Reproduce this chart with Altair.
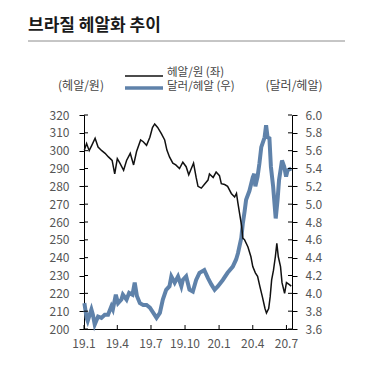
import altair as alt
import pandas as pd

title_text = "브라질 헤알화 추이"
left_series_name = "헤알/원 (좌)"
right_series_name = "달러/헤알 (우)"
left_unit = "(헤알/원)"
right_unit = "(달러/헤알)"

brl_krw_dates = [
    "2019-01-02", "2019-01-08", "2019-01-15", "2019-01-22", "2019-01-31", "2019-02-08",
    "2019-02-18", "2019-02-27", "2019-03-08", "2019-03-18", "2019-03-25", "2019-04-01",
    "2019-04-08", "2019-04-18", "2019-04-26", "2019-05-06", "2019-05-15", "2019-05-23",
    "2019-06-03", "2019-06-10", "2019-06-19", "2019-06-28", "2019-07-05", "2019-07-11",
    "2019-07-19", "2019-07-29", "2019-08-07", "2019-08-13", "2019-08-20", "2019-08-29",
    "2019-09-06", "2019-09-16", "2019-09-25", "2019-10-04", "2019-10-11", "2019-10-18",
    "2019-10-24", "2019-10-31", "2019-11-05", "2019-11-14", "2019-11-22", "2019-12-02",
    "2019-12-06", "2019-12-16", "2019-12-24", "2020-01-02", "2020-01-07", "2020-01-16",
    "2020-01-24", "2020-02-03", "2020-02-12", "2020-02-17", "2020-02-21", "2020-03-02",
    "2020-03-05", "2020-03-10", "2020-03-19", "2020-03-27", "2020-04-01", "2020-04-08",
    "2020-04-14", "2020-04-20", "2020-04-27", "2020-05-04", "2020-05-08", "2020-05-14",
    "2020-05-18", "2020-05-22", "2020-05-27", "2020-06-01", "2020-06-05", "2020-06-09",
    "2020-06-15", "2020-06-19", "2020-06-26", "2020-07-01", "2020-07-08", "2020-07-14",
]
brl_krw_values = [
    300.3, 304.0, 300.0, 303.0, 307.0, 302.0,
    300.0, 298.5, 296.5, 294.5, 287.0, 295.5,
    293.0, 289.0, 294.5, 298.5, 292.0, 299.5,
    306.0, 305.0, 303.0, 307.5, 313.0, 315.0,
    313.0, 309.5, 306.0, 300.3, 296.5, 293.0,
    292.0, 290.0, 293.5, 291.0, 286.5, 290.0,
    293.0, 285.0, 280.0, 279.0, 281.0, 283.5,
    287.0, 285.0, 288.0, 286.0, 281.5, 281.0,
    280.0, 276.0, 274.0, 276.0, 270.5, 257.5,
    251.0, 250.0, 246.0, 240.5, 235.0, 231.5,
    229.5, 224.0, 218.0, 211.5, 209.0, 211.5,
    218.0, 227.5, 233.0, 240.5, 248.0, 240.5,
    235.0, 226.0, 220.0, 226.0, 225.0, 224.0,
]

usd_brl_dates = [
    "2019-01-02", "2019-01-08", "2019-01-11", "2019-01-21", "2019-01-25", "2019-01-30",
    "2019-02-08", "2019-02-17", "2019-02-26", "2019-03-07", "2019-03-16", "2019-03-20",
    "2019-03-28", "2019-04-03", "2019-04-12", "2019-04-16", "2019-04-26", "2019-05-03",
    "2019-05-12", "2019-05-18", "2019-05-24", "2019-06-01", "2019-06-10", "2019-06-19",
    "2019-06-28", "2019-07-06", "2019-07-16", "2019-07-25", "2019-08-02", "2019-08-11",
    "2019-08-20", "2019-08-25", "2019-09-03", "2019-09-12", "2019-09-21", "2019-09-25",
    "2019-10-04", "2019-10-13", "2019-10-22", "2019-10-31", "2019-11-09", "2019-11-22",
    "2019-12-02", "2019-12-11", "2019-12-20", "2019-12-29", "2020-01-11", "2020-01-24",
    "2020-02-07", "2020-02-16", "2020-02-21", "2020-03-01", "2020-03-05", "2020-03-10",
    "2020-03-14", "2020-03-23", "2020-04-01", "2020-04-05", "2020-04-08", "2020-04-14",
    "2020-04-19", "2020-04-24", "2020-05-03", "2020-05-07", "2020-05-11", "2020-05-16",
    "2020-05-20", "2020-05-26", "2020-06-02", "2020-06-07", "2020-06-11", "2020-06-19",
    "2020-06-25", "2020-06-30", "2020-07-04", "2020-07-14",
]
usd_brl_values = [
    3.89, 3.725, 3.69, 3.82, 3.76, 3.65,
    3.74, 3.725, 3.76, 3.76, 3.855, 3.82,
    3.985, 3.89, 3.93, 3.985, 3.93, 4.005,
    3.985, 4.12, 3.97, 3.89, 3.87, 3.87,
    3.84, 3.79, 3.725, 3.78, 3.93, 4.04,
    4.08, 4.19, 4.12, 4.19, 4.08, 4.15,
    4.19, 4.04, 4.02, 4.15, 4.23, 4.26,
    4.17, 4.10, 4.04, 4.08, 4.15, 4.23,
    4.30, 4.38, 4.45, 4.62, 4.78, 4.92,
    5.05, 5.15, 5.30, 5.34, 5.20, 5.31,
    5.46, 5.64, 5.75, 5.885, 5.75, 5.74,
    5.42, 5.20, 4.84, 5.05, 5.27, 5.49,
    5.42, 5.31, 5.38, 5.40,
]

x_tick_dates = ["2019-01-01", "2019-04-01", "2019-07-01", "2019-10-01",
                "2020-01-01", "2020-04-01", "2020-07-01"]
x_tick_labels = ["19.1", "19.4", "19.7", "19.10", "20.1", "20.4", "20.7"]
left_ticks = [200, 210, 220, 230, 240, 250, 260, 270, 280, 290, 300, 310, 320]
right_ticks = [3.6, 3.8, 4.0, 4.2, 4.4, 4.6, 4.8, 5.0, 5.2, 5.4, 5.6, 5.8, 6.0]

W = 208
H = 214
FONT = "Noto Sans CJK KR"
LABEL_COLOR = "#555555"

krw_df = pd.DataFrame({"date": brl_krw_dates, "v": brl_krw_values})
usd_df = pd.DataFrame({"date": usd_brl_dates, "v": usd_brl_values})
xt_df = pd.DataFrame({"date": x_tick_dates, "lab": x_tick_labels})
lt_df = pd.DataFrame({"t": left_ticks})
rt_df = pd.DataFrame({"t": right_ticks})
one = pd.DataFrame({"a": [0]})

x_dom = [alt.DateTime(year=2019, month=1, date=1, utc=True),
         alt.DateTime(year=2020, month=7, date=16, utc=True)]

xscale = alt.Scale(type="utc", domain=x_dom)
# axis with domain line only; labels drawn from tick table
x_axis = alt.Axis(title=None, ticks=False, labels=False, grid=False, domainColor="black")

blue = alt.Chart(usd_df).mark_line(color="#5f82aa", strokeWidth=4).encode(
    x=alt.X("date:T", scale=xscale, axis=x_axis),
    y=alt.Y("v:Q", scale=alt.Scale(domain=[3.6, 6.0], zero=False, nice=False),
            axis=alt.Axis(orient="right", values=right_ticks, format=".1f", title=None,
                          tickSize=5, labelPadding=8, domainColor="black", tickColor="black",
                          grid=False, labelOverlap=False,
                          labelFont=FONT, labelFontSize=12, labelColor=LABEL_COLOR)),
)

black = alt.Chart(krw_df).mark_line(color="#111111", strokeWidth=1.5).encode(
    x=alt.X("date:T", scale=xscale, axis=x_axis),
    y=alt.Y("v:Q", scale=alt.Scale(domain=[200, 320], zero=False, nice=False),
            axis=alt.Axis(orient="left", values=left_ticks, format="d", title=None,
                          tickSize=5, labelPadding=10, domainColor="black", tickColor="black",
                          grid=False, labelOverlap=False,
                          labelFont=FONT, labelFontSize=12, labelColor=LABEL_COLOR)),
)

xticks = alt.Chart(xt_df).mark_rule(color="black", strokeWidth=1).encode(
    x=alt.X("date:T", scale=xscale, axis=x_axis),
    y=alt.value(H - 4), y2=alt.value(H),
)
xlabels = alt.Chart(xt_df).mark_text(font=FONT, fontSize=12, color=LABEL_COLOR,
                                     align="center", baseline="top").encode(
    x=alt.X("date:T", scale=xscale, axis=x_axis),
    y=alt.value(H + 10),
    text="lab:N",
)

lticks = alt.Chart(lt_df).mark_rule(color="black", strokeWidth=1).encode(
    y=alt.Y("t:Q", scale=alt.Scale(domain=[200, 320], zero=False, nice=False), axis=None),
    x=alt.value(0), x2=alt.value(4),
)
rticks = alt.Chart(rt_df).mark_rule(color="black", strokeWidth=1).encode(
    y=alt.Y("t:Q", scale=alt.Scale(domain=[3.6, 6.0], zero=False, nice=False), axis=None),
    x=alt.value(W - 4), x2=alt.value(W),
)

title = alt.Chart(one).mark_text(text=title_text, font=FONT, fontSize=17, fontWeight="bold",
                                 color="#1a1a1a", align="left", baseline="middle").encode(
    x=alt.value(-56), y=alt.value(-89))
underline = alt.Chart(one).mark_rule(color="#8c8c8c", strokeWidth=1).encode(
    x=alt.value(-56), x2=alt.value(261), y=alt.value(-74))

leg_black = alt.Chart(one).mark_rule(color="#111111", strokeWidth=1.5).encode(
    x=alt.value(41), x2=alt.value(79), y=alt.value(-39))
leg_blue = alt.Chart(one).mark_rule(color="#5f82aa", strokeWidth=3.5).encode(
    x=alt.value(41), x2=alt.value(79), y=alt.value(-27))
leg_t1 = alt.Chart(one).mark_text(text=left_series_name, font=FONT, fontSize=11.5,
                                  color="#444444", align="left", baseline="middle").encode(
    x=alt.value(83), y=alt.value(-42.5))
leg_t2 = alt.Chart(one).mark_text(text=right_series_name, font=FONT, fontSize=11.5,
                                  color="#444444", align="left", baseline="middle").encode(
    x=alt.value(83), y=alt.value(-28))
unit_l = alt.Chart(one).mark_text(text=left_unit, font=FONT, fontSize=12,
                                  color="#444444", align="center", baseline="middle").encode(
    x=alt.value(-3), y=alt.value(-29))
unit_r = alt.Chart(one).mark_text(text=right_unit, font=FONT, fontSize=12,
                                  color="#444444", align="center", baseline="middle").encode(
    x=alt.value(210), y=alt.value(-29))

chart = alt.layer(
    blue, black, xticks, xlabels, lticks, rticks,
    title, underline, leg_black, leg_blue, leg_t1, leg_t2, unit_l, unit_r,
).resolve_scale(y="independent").properties(
    width=W, height=H,
    autosize=alt.AutoSizeParams(type="none"),
    padding={"left": 76, "top": 107, "right": 60, "bottom": 40},
).configure_view(stroke=None)

chart.save("out.html", embed_options={"renderer": "svg", "actions": False})
